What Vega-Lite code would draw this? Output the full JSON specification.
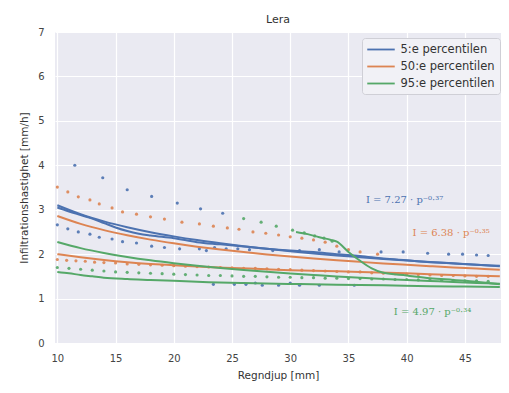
{
  "$schema": "https://vega.github.io/schema/vega-lite/v6.json",
  "width": 446,
  "height": 311,
  "autosize": {"type": "none"},
  "padding": {"left": 55, "top": 32, "right": 8, "bottom": 50},
  "background": "white",
  "title": {"text": "Lera", "fontSize": 11, "font": "DejaVu Sans", "fontWeight": "normal", "color": "#333", "offset": 2},
  "config": {
    "view": {"fill": "#eaeaf2", "stroke": null},
    "axis": {"domain": false, "ticks": false, "grid": true, "gridColor": "white", "gridWidth": 1.2,
      "labelColor": "#444", "labelFont": "DejaVu Sans", "labelFontSize": 10,
      "titleFont": "DejaVu Sans", "titleFontSize": 10.5, "titleFontWeight": "normal", "titleColor": "#333"}
  },
  "datasets": {
    "lines": [
      {"id":"b_obs","p":"5:e percentilen","x":10,"y":3.05},{"id":"b_obs","p":"5:e percentilen","x":11,"y":2.96},{"id":"b_obs","p":"5:e percentilen","x":12,"y":2.88},{"id":"b_obs","p":"5:e percentilen","x":13,"y":2.8},{"id":"b_obs","p":"5:e percentilen","x":14,"y":2.7},{"id":"b_obs","p":"5:e percentilen","x":15,"y":2.6},{"id":"b_obs","p":"5:e percentilen","x":16,"y":2.52},{"id":"b_obs","p":"5:e percentilen","x":17,"y":2.46},{"id":"b_obs","p":"5:e percentilen","x":18,"y":2.42},{"id":"b_obs","p":"5:e percentilen","x":20,"y":2.36},{"id":"b_obs","p":"5:e percentilen","x":22,"y":2.27},{"id":"b_obs","p":"5:e percentilen","x":24,"y":2.22},{"id":"b_obs","p":"5:e percentilen","x":26,"y":2.17},{"id":"b_obs","p":"5:e percentilen","x":28,"y":2.12},{"id":"b_obs","p":"5:e percentilen","x":30,"y":2.08},{"id":"b_obs","p":"5:e percentilen","x":32,"y":2.05},{"id":"b_obs","p":"5:e percentilen","x":34,"y":2.0},{"id":"b_obs","p":"5:e percentilen","x":36,"y":1.96},{"id":"b_obs","p":"5:e percentilen","x":38,"y":1.9},{"id":"b_obs","p":"5:e percentilen","x":40,"y":1.86},{"id":"b_obs","p":"5:e percentilen","x":42,"y":1.82},{"id":"b_obs","p":"5:e percentilen","x":44,"y":1.79},{"id":"b_obs","p":"5:e percentilen","x":46,"y":1.76},{"id":"b_obs","p":"5:e percentilen","x":48,"y":1.73},
      {"id":"b_fit","p":"5:e percentilen","x":10,"y":3.101},{"id":"b_fit","p":"5:e percentilen","x":12,"y":2.899},{"id":"b_fit","p":"5:e percentilen","x":14,"y":2.738},{"id":"b_fit","p":"5:e percentilen","x":16,"y":2.606},{"id":"b_fit","p":"5:e percentilen","x":18,"y":2.495},{"id":"b_fit","p":"5:e percentilen","x":20,"y":2.4},{"id":"b_fit","p":"5:e percentilen","x":22,"y":2.316},{"id":"b_fit","p":"5:e percentilen","x":24,"y":2.243},{"id":"b_fit","p":"5:e percentilen","x":26,"y":2.177},{"id":"b_fit","p":"5:e percentilen","x":28,"y":2.119},{"id":"b_fit","p":"5:e percentilen","x":30,"y":2.065},{"id":"b_fit","p":"5:e percentilen","x":32,"y":2.017},{"id":"b_fit","p":"5:e percentilen","x":34,"y":1.972},{"id":"b_fit","p":"5:e percentilen","x":36,"y":1.931},{"id":"b_fit","p":"5:e percentilen","x":38,"y":1.892},{"id":"b_fit","p":"5:e percentilen","x":40,"y":1.857},{"id":"b_fit","p":"5:e percentilen","x":42,"y":1.824},{"id":"b_fit","p":"5:e percentilen","x":44,"y":1.793},{"id":"b_fit","p":"5:e percentilen","x":46,"y":1.763},{"id":"b_fit","p":"5:e percentilen","x":48,"y":1.736},
      {"id":"o_fit","p":"50:e percentilen","x":10,"y":2.859},{"id":"o_fit","p":"50:e percentilen","x":12,"y":2.682},{"id":"o_fit","p":"50:e percentilen","x":14,"y":2.541},{"id":"o_fit","p":"50:e percentilen","x":16,"y":2.425},{"id":"o_fit","p":"50:e percentilen","x":18,"y":2.327},{"id":"o_fit","p":"50:e percentilen","x":20,"y":2.243},{"id":"o_fit","p":"50:e percentilen","x":22,"y":2.169},{"id":"o_fit","p":"50:e percentilen","x":24,"y":2.104},{"id":"o_fit","p":"50:e percentilen","x":26,"y":2.046},{"id":"o_fit","p":"50:e percentilen","x":28,"y":1.994},{"id":"o_fit","p":"50:e percentilen","x":30,"y":1.946},{"id":"o_fit","p":"50:e percentilen","x":32,"y":1.903},{"id":"o_fit","p":"50:e percentilen","x":34,"y":1.863},{"id":"o_fit","p":"50:e percentilen","x":36,"y":1.826},{"id":"o_fit","p":"50:e percentilen","x":38,"y":1.791},{"id":"o_fit","p":"50:e percentilen","x":40,"y":1.76},{"id":"o_fit","p":"50:e percentilen","x":42,"y":1.73},{"id":"o_fit","p":"50:e percentilen","x":44,"y":1.702},{"id":"o_fit","p":"50:e percentilen","x":46,"y":1.676},{"id":"o_fit","p":"50:e percentilen","x":48,"y":1.651},
      {"id":"o_low","p":"50:e percentilen","x":10,"y":2.0},{"id":"o_low","p":"50:e percentilen","x":12,"y":1.93},{"id":"o_low","p":"50:e percentilen","x":14,"y":1.87},{"id":"o_low","p":"50:e percentilen","x":16,"y":1.82},{"id":"o_low","p":"50:e percentilen","x":18,"y":1.78},{"id":"o_low","p":"50:e percentilen","x":20,"y":1.75},{"id":"o_low","p":"50:e percentilen","x":22,"y":1.72},{"id":"o_low","p":"50:e percentilen","x":25,"y":1.69},{"id":"o_low","p":"50:e percentilen","x":28,"y":1.66},{"id":"o_low","p":"50:e percentilen","x":30,"y":1.64},{"id":"o_low","p":"50:e percentilen","x":33,"y":1.62},{"id":"o_low","p":"50:e percentilen","x":36,"y":1.6},{"id":"o_low","p":"50:e percentilen","x":40,"y":1.57},{"id":"o_low","p":"50:e percentilen","x":44,"y":1.53},{"id":"o_low","p":"50:e percentilen","x":48,"y":1.5},
      {"id":"g_fit","p":"95:e percentilen","x":10,"y":2.272},{"id":"g_fit","p":"95:e percentilen","x":12,"y":2.135},{"id":"g_fit","p":"95:e percentilen","x":14,"y":2.026},{"id":"g_fit","p":"95:e percentilen","x":16,"y":1.936},{"id":"g_fit","p":"95:e percentilen","x":18,"y":1.86},{"id":"g_fit","p":"95:e percentilen","x":20,"y":1.795},{"id":"g_fit","p":"95:e percentilen","x":22,"y":1.737},{"id":"g_fit","p":"95:e percentilen","x":24,"y":1.687},{"id":"g_fit","p":"95:e percentilen","x":26,"y":1.642},{"id":"g_fit","p":"95:e percentilen","x":28,"y":1.601},{"id":"g_fit","p":"95:e percentilen","x":30,"y":1.564},{"id":"g_fit","p":"95:e percentilen","x":32,"y":1.53},{"id":"g_fit","p":"95:e percentilen","x":34,"y":1.498},{"id":"g_fit","p":"95:e percentilen","x":36,"y":1.47},{"id":"g_fit","p":"95:e percentilen","x":38,"y":1.443},{"id":"g_fit","p":"95:e percentilen","x":40,"y":1.418},{"id":"g_fit","p":"95:e percentilen","x":42,"y":1.395},{"id":"g_fit","p":"95:e percentilen","x":44,"y":1.373},{"id":"g_fit","p":"95:e percentilen","x":46,"y":1.352},{"id":"g_fit","p":"95:e percentilen","x":48,"y":1.333},
      {"id":"g_low","p":"95:e percentilen","x":10,"y":1.6},{"id":"g_low","p":"95:e percentilen","x":11,"y":1.57},{"id":"g_low","p":"95:e percentilen","x":12,"y":1.53},{"id":"g_low","p":"95:e percentilen","x":13,"y":1.5},{"id":"g_low","p":"95:e percentilen","x":14,"y":1.47},{"id":"g_low","p":"95:e percentilen","x":16,"y":1.44},{"id":"g_low","p":"95:e percentilen","x":18,"y":1.42},{"id":"g_low","p":"95:e percentilen","x":20,"y":1.4},{"id":"g_low","p":"95:e percentilen","x":23,"y":1.37},{"id":"g_low","p":"95:e percentilen","x":26,"y":1.35},{"id":"g_low","p":"95:e percentilen","x":30,"y":1.33},{"id":"g_low","p":"95:e percentilen","x":34,"y":1.31},{"id":"g_low","p":"95:e percentilen","x":38,"y":1.3},{"id":"g_low","p":"95:e percentilen","x":42,"y":1.28},{"id":"g_low","p":"95:e percentilen","x":45,"y":1.27},{"id":"g_low","p":"95:e percentilen","x":48,"y":1.26},
      {"id":"g_obs","p":"95:e percentilen","x":30.5,"y":2.5},{"id":"g_obs","p":"95:e percentilen","x":31.5,"y":2.45},{"id":"g_obs","p":"95:e percentilen","x":32.5,"y":2.38},{"id":"g_obs","p":"95:e percentilen","x":33.5,"y":2.32},{"id":"g_obs","p":"95:e percentilen","x":34,"y":2.28},{"id":"g_obs","p":"95:e percentilen","x":35,"y":2.05},{"id":"g_obs","p":"95:e percentilen","x":36,"y":1.85},{"id":"g_obs","p":"95:e percentilen","x":37,"y":1.68},{"id":"g_obs","p":"95:e percentilen","x":38,"y":1.58},{"id":"g_obs","p":"95:e percentilen","x":40,"y":1.52},{"id":"g_obs","p":"95:e percentilen","x":42,"y":1.46},{"id":"g_obs","p":"95:e percentilen","x":44,"y":1.42},{"id":"g_obs","p":"95:e percentilen","x":46,"y":1.38},{"id":"g_obs","p":"95:e percentilen","x":48,"y":1.32}
    ],
    "points": [
      {"c":"b","x":11.5,"y":4.0},{"c":"b","x":13.9,"y":3.72},{"c":"b","x":16.0,"y":3.45},{"c":"b","x":18.1,"y":3.3},{"c":"b","x":20.3,"y":3.15},{"c":"b","x":22.3,"y":3.02},{"c":"b","x":24.2,"y":2.92},
      {"c":"b","x":10.0,"y":2.66},{"c":"b","x":10.9,"y":2.57},{"c":"b","x":11.8,"y":2.5},{"c":"b","x":12.8,"y":2.45},{"c":"b","x":13.6,"y":2.38},{"c":"b","x":14.7,"y":2.34},{"c":"b","x":15.6,"y":2.28},{"c":"b","x":16.8,"y":2.25},{"c":"b","x":18.1,"y":2.18},{"c":"b","x":19.2,"y":2.15},{"c":"b","x":20.5,"y":2.12},
      {"c":"b","x":22.2,"y":2.12},{"c":"b","x":22.8,"y":2.08},{"c":"b","x":23.5,"y":2.15},{"c":"b","x":24.5,"y":2.12},{"c":"b","x":25.5,"y":2.12},{"c":"b","x":26.5,"y":2.1},{"c":"b","x":28.5,"y":2.08},{"c":"b","x":30.8,"y":2.08},{"c":"b","x":32.5,"y":2.1},{"c":"b","x":34.2,"y":2.05},
      {"c":"b","x":37.8,"y":2.05},{"c":"b","x":39.7,"y":2.05},{"c":"b","x":41.8,"y":2.02},{"c":"b","x":43.6,"y":2.0},{"c":"b","x":44.8,"y":2.0},{"c":"b","x":46.0,"y":1.98},{"c":"b","x":47.0,"y":1.97},
      {"c":"b","x":23.4,"y":1.32},{"c":"b","x":25.2,"y":1.32},{"c":"b","x":26.2,"y":1.32},{"c":"b","x":27.0,"y":1.35},{"c":"b","x":27.6,"y":1.3},{"c":"b","x":29.0,"y":1.3},{"c":"b","x":30.0,"y":1.35},{"c":"b","x":30.8,"y":1.3},{"c":"b","x":32.5,"y":1.3},{"c":"b","x":35.5,"y":1.3},
      {"c":"o","x":10.0,"y":3.51},{"c":"o","x":10.9,"y":3.4},{"c":"o","x":11.8,"y":3.29},{"c":"o","x":12.8,"y":3.22},{"c":"o","x":13.6,"y":3.13},{"c":"o","x":14.7,"y":3.04},{"c":"o","x":15.6,"y":2.95},{"c":"o","x":16.8,"y":2.9},{"c":"o","x":18.0,"y":2.84},{"c":"o","x":19.2,"y":2.79},{"c":"o","x":20.7,"y":2.72},{"c":"o","x":22.2,"y":2.68},{"c":"o","x":23.4,"y":2.63},{"c":"o","x":24.6,"y":2.59},{"c":"o","x":25.6,"y":2.56},{"c":"o","x":26.8,"y":2.5},{"c":"o","x":27.9,"y":2.47},{"c":"o","x":29.0,"y":2.43},{"c":"o","x":30.0,"y":2.39},{"c":"o","x":31.0,"y":2.36},{"c":"o","x":32.0,"y":2.32},{"c":"o","x":33.0,"y":2.27},{"c":"o","x":34.0,"y":2.18},{"c":"o","x":35.0,"y":2.1},{"c":"o","x":36.0,"y":2.05},{"c":"o","x":37.5,"y":2.0},
      {"c":"o","x":10,"y":1.88},{"c":"o","x":10.8,"y":1.86},{"c":"o","x":11.6,"y":1.85},{"c":"o","x":12.4,"y":1.84},{"c":"o","x":13.2,"y":1.82},{"c":"o","x":14,"y":1.81},{"c":"o","x":15,"y":1.8},{"c":"o","x":16,"y":1.78},{"c":"o","x":17,"y":1.77},{"c":"o","x":18,"y":1.76},{"c":"o","x":19,"y":1.75},{"c":"o","x":20,"y":1.74},{"c":"o","x":21,"y":1.73},{"c":"o","x":22,"y":1.72},{"c":"o","x":23,"y":1.71},{"c":"o","x":24,"y":1.7},{"c":"o","x":25,"y":1.69},{"c":"o","x":26,"y":1.68},{"c":"o","x":27,"y":1.68},{"c":"o","x":28,"y":1.67},{"c":"o","x":29,"y":1.66},{"c":"o","x":30,"y":1.65},{"c":"o","x":31,"y":1.64},{"c":"o","x":32,"y":1.63},{"c":"o","x":33,"y":1.62},{"c":"o","x":34,"y":1.61},{"c":"o","x":35,"y":1.6},{"c":"o","x":36,"y":1.6},{"c":"o","x":37,"y":1.58},{"c":"o","x":38,"y":1.57},{"c":"o","x":39,"y":1.56},{"c":"o","x":40,"y":1.55},{"c":"o","x":41,"y":1.54},{"c":"o","x":42,"y":1.53},{"c":"o","x":43,"y":1.52},{"c":"o","x":44,"y":1.52},{"c":"o","x":45,"y":1.51},{"c":"o","x":46,"y":1.5},{"c":"o","x":47,"y":1.5},
      {"c":"g","x":26.0,"y":2.8},{"c":"g","x":27.5,"y":2.72},{"c":"g","x":28.8,"y":2.63},{"c":"g","x":30.2,"y":2.54},{"c":"g","x":31.2,"y":2.48},{"c":"g","x":32.1,"y":2.41},{"c":"g","x":32.9,"y":2.36},{"c":"g","x":33.6,"y":2.29},
      {"c":"g","x":10,"y":1.7},{"c":"g","x":11,"y":1.68},{"c":"g","x":12,"y":1.66},{"c":"g","x":13,"y":1.64},{"c":"g","x":14,"y":1.62},{"c":"g","x":15,"y":1.6},{"c":"g","x":16,"y":1.59},{"c":"g","x":17,"y":1.58},{"c":"g","x":18,"y":1.57},{"c":"g","x":19,"y":1.56},{"c":"g","x":20,"y":1.55},{"c":"g","x":21,"y":1.54},{"c":"g","x":22,"y":1.53},{"c":"g","x":23,"y":1.52},{"c":"g","x":24,"y":1.52},{"c":"g","x":25,"y":1.51},{"c":"g","x":26,"y":1.5},{"c":"g","x":27,"y":1.5},{"c":"g","x":28,"y":1.49},{"c":"g","x":29,"y":1.48},{"c":"g","x":30,"y":1.48},{"c":"g","x":31,"y":1.47},{"c":"g","x":32,"y":1.47},{"c":"g","x":33,"y":1.46},{"c":"g","x":34,"y":1.46},{"c":"g","x":35,"y":1.45},{"c":"g","x":36,"y":1.45},{"c":"g","x":37,"y":1.44},{"c":"g","x":38,"y":1.44},{"c":"g","x":39,"y":1.43},{"c":"g","x":40,"y":1.43},{"c":"g","x":41,"y":1.42},{"c":"g","x":42,"y":1.42},{"c":"g","x":43,"y":1.41},{"c":"g","x":44,"y":1.41},{"c":"g","x":45,"y":1.4},{"c":"g","x":46,"y":1.4},{"c":"g","x":47,"y":1.39}
    ],
    "notes": [
      {"c":"b","x":36.5,"y":3.22,"t":"I = 7.27 · p⁻⁰·³⁷"},
      {"c":"o","x":40.5,"y":2.48,"t":"I = 6.38 · p⁻⁰·³⁵"},
      {"c":"g","x":38.9,"y":0.7,"t":"I = 4.97 · p⁻⁰·³⁴"}
    ]
  },
  "layer": [
    {
      "data": {"name": "points"},
      "mark": {"type": "point", "filled": true, "size": 10, "opacity": 0.9},
      "encoding": {
        "x": {"field": "x", "type": "quantitative"},
        "y": {"field": "y", "type": "quantitative"},
        "fill": {"field": "c", "type": "nominal", "legend": null,
          "scale": {"domain": ["b","o","g"], "range": ["#4c72b0","#dd8452","#55a868"]}}
      }
    },
    {
      "data": {"name": "lines"},
      "mark": {"type": "line", "strokeWidth": 2, "interpolate": "monotone"},
      "encoding": {
        "x": {"field": "x", "type": "quantitative", "scale": {"domain": [9.8, 48.1], "nice": false, "zero": false},
          "axis": {"values": [10,15,20,25,30,35,40,45], "title": "Regndjup [mm]", "labelPadding": 10, "titlePadding": 7}},
        "y": {"field": "y", "type": "quantitative", "scale": {"domain": [0, 7], "nice": false},
          "axis": {"values": [0,1,2,3,4,5,6,7], "title": "Infiltrationshastighet [mm/h]", "labelPadding": 11, "titlePadding": 8}},
        "detail": {"field": "id"},
        "color": {"field": "p", "type": "nominal",
          "scale": {"domain": ["5:e percentilen","50:e percentilen","95:e percentilen"], "range": ["#4c72b0","#dd8452","#55a868"]},
          "legend": {"title": null, "orient": "none", "legendX": 307, "legendY": 6, "symbolType": "M-2.5,0H2.5", "symbolSize": 121, "symbolOffset": 7.5, "symbolStrokeWidth": 1.8,
            "fillColor": "#f1f1f6", "strokeColor": "#cfcfd6", "padding": 5, "labelFontSize": 11.5, "labelFont": "DejaVu Sans", "labelColor": "#333", "labelOffset": 13, "rowPadding": 5, "cornerRadius": 3}}
      }
    },
    {
      "data": {"name": "notes"},
      "mark": {"type": "text", "align": "left", "baseline": "middle", "font": "DejaVu Serif", "fontSize": 10},
      "encoding": {
        "x": {"field": "x", "type": "quantitative"},
        "y": {"field": "y", "type": "quantitative"},
        "text": {"field": "t"},
        "fill": {"field": "c", "type": "nominal", "legend": null,
          "scale": {"domain": ["b","o","g"], "range": ["#4c72b0","#dd8452","#55a868"]}}
      }
    }
  ]
}
